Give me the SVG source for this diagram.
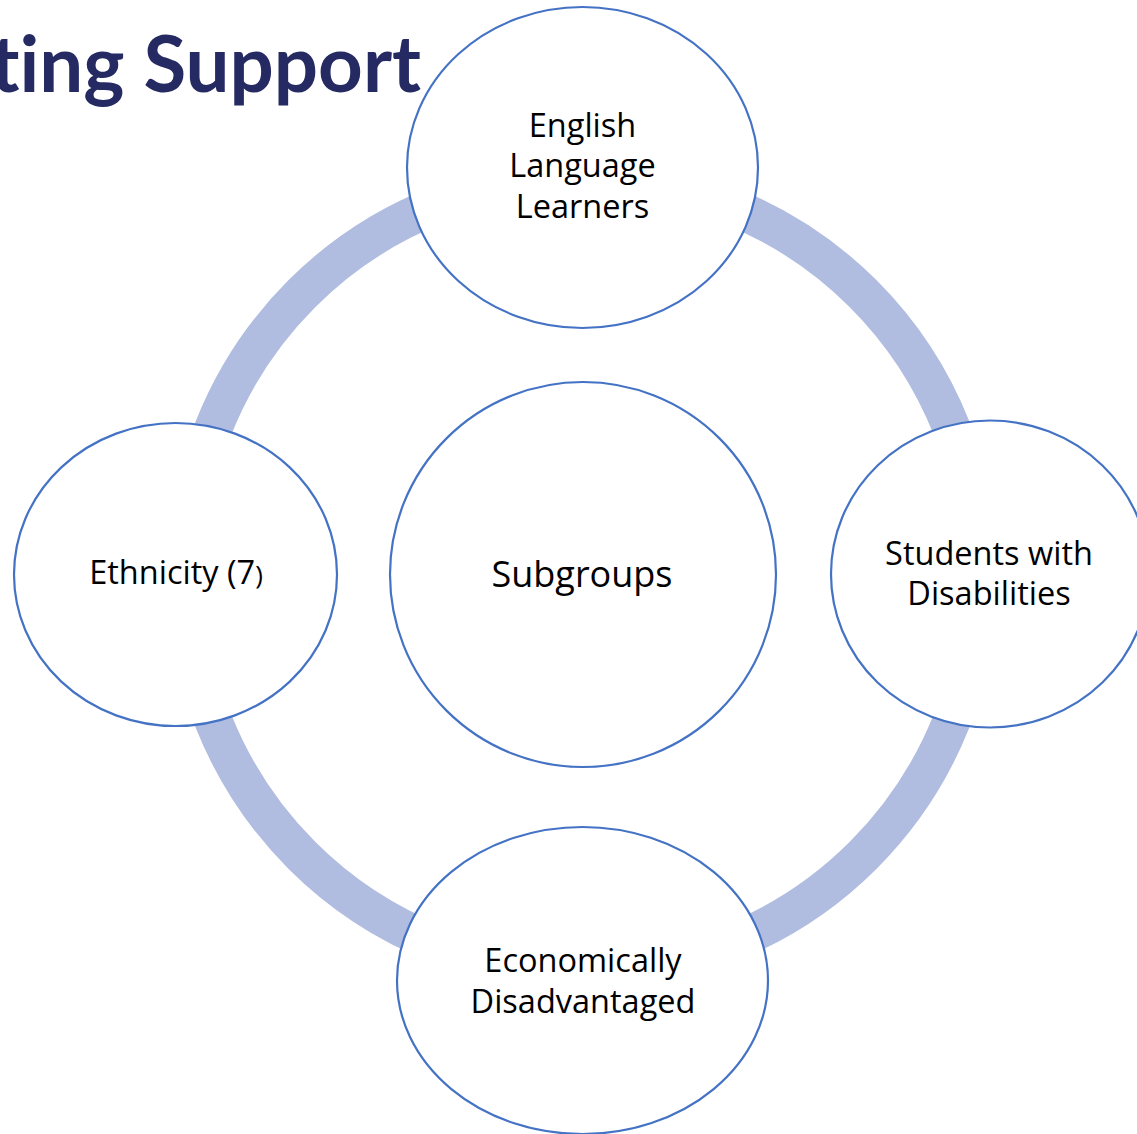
<svg xmlns="http://www.w3.org/2000/svg" width="1137" height="1134" viewBox="0 0 1137 1134">
  <style>
    .node { fill: #FFFFFF; stroke: #4472C4; stroke-width: 2.2; }
    .label { font-family: "Open Sans", "Noto Sans", "Liberation Sans", sans-serif; font-size: 32.5px; fill: #000000; text-anchor: middle; font-variant-ligatures: none; }
    .big { font-size: 36px; }
    .title { font-family: Lato, "Open Sans", "Liberation Sans", sans-serif; font-weight: bold; font-size: 78px; fill: #252A62; text-anchor: end; font-variant-ligatures: none; }
    .ring { fill: none; stroke: #B0BDE0; stroke-width: 38; }
  </style>
  <rect x="0" y="0" width="1137" height="1134" fill="#FFFFFF"/>
  <text class="title" x="421" y="92">ting Support</text>
  <g id="connectors">
    <circle class="ring" cx="582.5" cy="574.5" r="397"/>
  </g>
  <g id="node-ell">
    <ellipse class="node" cx="582.5" cy="167.5" rx="175.5" ry="160.5"/>
    <text class="label" x="582.5" y="137">English</text>
    <text class="label" x="582.5" y="177">Language</text>
    <text class="label" x="582.5" y="218">Learners</text>
  </g>
  <g id="node-ethnicity">
    <ellipse class="node" cx="175.5" cy="574.5" rx="161.5" ry="151.5"/>
    <text class="label" x="176" y="584">Ethnicity (7<tspan font-size="26">)</tspan></text>
  </g>
  <g id="node-subgroups">
    <ellipse class="node" cx="583" cy="574.5" rx="193" ry="192.5"/>
    <text class="label big" x="582" y="587">Subgroups</text>
  </g>
  <g id="node-swd">
    <ellipse class="node" cx="990" cy="574" rx="159" ry="153.5"/>
    <text class="label" x="989" y="565">Students with</text>
    <text class="label" x="989" y="605">Disabilities</text>
  </g>
  <g id="node-econ">
    <ellipse class="node" cx="582.5" cy="980.5" rx="185.5" ry="153.5"/>
    <text class="label" x="583" y="972">Economically</text>
    <text class="label" x="583" y="1013">Disadvantaged</text>
  </g>
</svg>
